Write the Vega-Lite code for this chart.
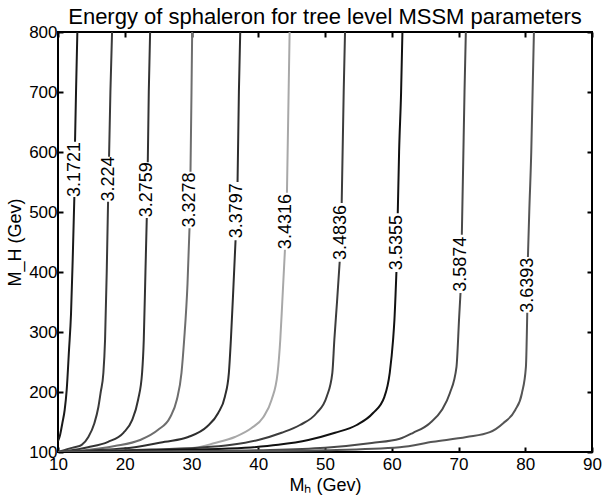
{
  "$schema": "https://vega.github.io/schema/vega-lite/v6.json",
  "width": 534,
  "height": 420,
  "autosize": {"type": "none"},
  "padding": {"left": 58, "top": 32, "right": 10, "bottom": 50},
  "background": "white",
  "title": {"text": "Energy of sphaleron for tree level MSSM parameters", "fontSize": 22, "font": "Liberation Sans", "fontWeight": "normal", "color": "black", "offset": -6, "anchor": "middle"},
  "config": {
    "view": {"stroke": "black", "strokeWidth": 2},
    "axis": {"grid": false, "domain": false, "labelFlush": false, "tickColor": "black", "tickWidth": 2, "tickSize": 5, "offset": -5, "labelFont": "Liberation Sans", "labelFontSize": 17, "labelColor": "black", "titleFont": "Liberation Sans", "titleFontSize": 18, "titleFontWeight": "normal", "titleColor": "black"}
  },
  "datasets": {
    "lines": [
      {"lvl": "3.1721", "seg": "a", "mh": 12.9, "mH": 800}, {"lvl": "3.1721", "seg": "a", "mh": 12.7, "mH": 700}, {"lvl": "3.1721", "seg": "a", "mh": 12.55, "mH": 617},
      {"lvl": "3.1721", "seg": "b", "mh": 12.45, "mH": 525}, {"lvl": "3.1721", "seg": "b", "mh": 12.2, "mH": 420}, {"lvl": "3.1721", "seg": "b", "mh": 11.95, "mH": 330}, {"lvl": "3.1721", "seg": "b", "mh": 11.65, "mH": 270}, {"lvl": "3.1721", "seg": "b", "mh": 11.3, "mH": 203}, {"lvl": "3.1721", "seg": "b", "mh": 11.0, "mH": 170}, {"lvl": "3.1721", "seg": "b", "mh": 10.65, "mH": 148}, {"lvl": "3.1721", "seg": "b", "mh": 10.3, "mH": 128}, {"lvl": "3.1721", "seg": "b", "mh": 10.0, "mH": 118},

      {"lvl": "3.224", "seg": "a", "mh": 18.1, "mH": 800}, {"lvl": "3.224", "seg": "a", "mh": 17.85, "mH": 700}, {"lvl": "3.224", "seg": "a", "mh": 17.65, "mH": 592},
      {"lvl": "3.224", "seg": "b", "mh": 17.5, "mH": 517}, {"lvl": "3.224", "seg": "b", "mh": 17.3, "mH": 400}, {"lvl": "3.224", "seg": "b", "mh": 17.05, "mH": 287}, {"lvl": "3.224", "seg": "b", "mh": 16.8, "mH": 232}, {"lvl": "3.224", "seg": "b", "mh": 16.4, "mH": 200}, {"lvl": "3.224", "seg": "b", "mh": 16.05, "mH": 175}, {"lvl": "3.224", "seg": "b", "mh": 15.45, "mH": 148}, {"lvl": "3.224", "seg": "b", "mh": 14.55, "mH": 125}, {"lvl": "3.224", "seg": "b", "mh": 13.55, "mH": 112}, {"lvl": "3.224", "seg": "b", "mh": 12.5, "mH": 108}, {"lvl": "3.224", "seg": "b", "mh": 11.8, "mH": 106}, {"lvl": "3.224", "seg": "b", "mh": 10.3, "mH": 101}, {"lvl": "3.224", "seg": "b", "mh": 10.0, "mH": 100},

      {"lvl": "3.2759", "seg": "a", "mh": 23.8, "mH": 800}, {"lvl": "3.2759", "seg": "a", "mh": 23.6, "mH": 700}, {"lvl": "3.2759", "seg": "a", "mh": 23.45, "mH": 583},
      {"lvl": "3.2759", "seg": "b", "mh": 23.3, "mH": 490}, {"lvl": "3.2759", "seg": "b", "mh": 23.1, "mH": 400}, {"lvl": "3.2759", "seg": "b", "mh": 22.85, "mH": 287}, {"lvl": "3.2759", "seg": "b", "mh": 22.6, "mH": 232}, {"lvl": "3.2759", "seg": "b", "mh": 22.0, "mH": 187}, {"lvl": "3.2759", "seg": "b", "mh": 21.1, "mH": 153}, {"lvl": "3.2759", "seg": "b", "mh": 19.8, "mH": 132}, {"lvl": "3.2759", "seg": "b", "mh": 17.5, "mH": 117}, {"lvl": "3.2759", "seg": "b", "mh": 14.5, "mH": 108}, {"lvl": "3.2759", "seg": "b", "mh": 11.5, "mH": 102}, {"lvl": "3.2759", "seg": "b", "mh": 10.0, "mH": 100},

      {"lvl": "3.3278", "seg": "a", "mh": 30.1, "mH": 800}, {"lvl": "3.3278", "seg": "a", "mh": 30.0, "mH": 700}, {"lvl": "3.3278", "seg": "a", "mh": 29.85, "mH": 567},
      {"lvl": "3.3278", "seg": "b", "mh": 29.7, "mH": 473}, {"lvl": "3.3278", "seg": "b", "mh": 29.4, "mH": 380}, {"lvl": "3.3278", "seg": "b", "mh": 28.9, "mH": 287}, {"lvl": "3.3278", "seg": "b", "mh": 28.5, "mH": 232}, {"lvl": "3.3278", "seg": "b", "mh": 27.8, "mH": 187}, {"lvl": "3.3278", "seg": "b", "mh": 26.8, "mH": 158}, {"lvl": "3.3278", "seg": "b", "mh": 25.0, "mH": 137}, {"lvl": "3.3278", "seg": "b", "mh": 22.3, "mH": 120}, {"lvl": "3.3278", "seg": "b", "mh": 18.5, "mH": 110}, {"lvl": "3.3278", "seg": "b", "mh": 14.0, "mH": 103}, {"lvl": "3.3278", "seg": "b", "mh": 10.0, "mH": 100},

      {"lvl": "3.3797", "seg": "a", "mh": 37.3, "mH": 800}, {"lvl": "3.3797", "seg": "a", "mh": 37.1, "mH": 700}, {"lvl": "3.3797", "seg": "a", "mh": 36.9, "mH": 550},
      {"lvl": "3.3797", "seg": "b", "mh": 36.6, "mH": 453}, {"lvl": "3.3797", "seg": "b", "mh": 36.3, "mH": 380}, {"lvl": "3.3797", "seg": "b", "mh": 35.9, "mH": 287}, {"lvl": "3.3797", "seg": "b", "mh": 35.6, "mH": 232}, {"lvl": "3.3797", "seg": "b", "mh": 35.0, "mH": 192}, {"lvl": "3.3797", "seg": "b", "mh": 34.0, "mH": 165}, {"lvl": "3.3797", "seg": "b", "mh": 32.3, "mH": 142}, {"lvl": "3.3797", "seg": "b", "mh": 29.5, "mH": 125}, {"lvl": "3.3797", "seg": "b", "mh": 26.0, "mH": 117}, {"lvl": "3.3797", "seg": "b", "mh": 21.5, "mH": 108}, {"lvl": "3.3797", "seg": "b", "mh": 15.5, "mH": 103}, {"lvl": "3.3797", "seg": "b", "mh": 10.0, "mH": 100},

      {"lvl": "3.4316", "seg": "a", "mh": 44.7, "mH": 800}, {"lvl": "3.4316", "seg": "a", "mh": 44.55, "mH": 700}, {"lvl": "3.4316", "seg": "a", "mh": 44.3, "mH": 532},
      {"lvl": "3.4316", "seg": "b", "mh": 44.0, "mH": 437}, {"lvl": "3.4316", "seg": "b", "mh": 43.6, "mH": 350}, {"lvl": "3.4316", "seg": "b", "mh": 43.3, "mH": 287}, {"lvl": "3.4316", "seg": "b", "mh": 42.9, "mH": 232}, {"lvl": "3.4316", "seg": "b", "mh": 42.0, "mH": 187}, {"lvl": "3.4316", "seg": "b", "mh": 40.75, "mH": 158}, {"lvl": "3.4316", "seg": "b", "mh": 39.0, "mH": 140}, {"lvl": "3.4316", "seg": "b", "mh": 36.5, "mH": 125}, {"lvl": "3.4316", "seg": "b", "mh": 33.5, "mH": 115}, {"lvl": "3.4316", "seg": "b", "mh": 30.5, "mH": 107}, {"lvl": "3.4316", "seg": "b", "mh": 25.0, "mH": 104}, {"lvl": "3.4316", "seg": "b", "mh": 18.0, "mH": 102}, {"lvl": "3.4316", "seg": "b", "mh": 10.0, "mH": 100},

      {"lvl": "3.4836", "seg": "a", "mh": 53.0, "mH": 800}, {"lvl": "3.4836", "seg": "a", "mh": 52.8, "mH": 700}, {"lvl": "3.4836", "seg": "a", "mh": 52.5, "mH": 515},
      {"lvl": "3.4836", "seg": "b", "mh": 52.2, "mH": 417}, {"lvl": "3.4836", "seg": "b", "mh": 51.8, "mH": 350}, {"lvl": "3.4836", "seg": "b", "mh": 51.4, "mH": 287}, {"lvl": "3.4836", "seg": "b", "mh": 51.1, "mH": 232}, {"lvl": "3.4836", "seg": "b", "mh": 50.25, "mH": 192}, {"lvl": "3.4836", "seg": "b", "mh": 48.75, "mH": 165}, {"lvl": "3.4836", "seg": "b", "mh": 46.25, "mH": 145}, {"lvl": "3.4836", "seg": "b", "mh": 43.5, "mH": 132}, {"lvl": "3.4836", "seg": "b", "mh": 40.0, "mH": 120}, {"lvl": "3.4836", "seg": "b", "mh": 36.0, "mH": 112}, {"lvl": "3.4836", "seg": "b", "mh": 31.0, "mH": 107}, {"lvl": "3.4836", "seg": "b", "mh": 24.0, "mH": 104}, {"lvl": "3.4836", "seg": "b", "mh": 16.0, "mH": 101.5}, {"lvl": "3.4836", "seg": "b", "mh": 10.0, "mH": 100},

      {"lvl": "3.5355", "seg": "a", "mh": 61.6, "mH": 800}, {"lvl": "3.5355", "seg": "a", "mh": 61.4, "mH": 700}, {"lvl": "3.5355", "seg": "a", "mh": 61.1, "mH": 600}, {"lvl": "3.5355", "seg": "a", "mh": 60.9, "mH": 498},
      {"lvl": "3.5355", "seg": "b", "mh": 60.7, "mH": 400}, {"lvl": "3.5355", "seg": "b", "mh": 60.4, "mH": 320}, {"lvl": "3.5355", "seg": "b", "mh": 60.2, "mH": 287}, {"lvl": "3.5355", "seg": "b", "mh": 59.7, "mH": 232}, {"lvl": "3.5355", "seg": "b", "mh": 58.9, "mH": 192}, {"lvl": "3.5355", "seg": "b", "mh": 57.2, "mH": 165}, {"lvl": "3.5355", "seg": "b", "mh": 54.75, "mH": 145}, {"lvl": "3.5355", "seg": "b", "mh": 51.5, "mH": 132}, {"lvl": "3.5355", "seg": "b", "mh": 47.5, "mH": 120}, {"lvl": "3.5355", "seg": "b", "mh": 43.0, "mH": 112}, {"lvl": "3.5355", "seg": "b", "mh": 38.0, "mH": 107}, {"lvl": "3.5355", "seg": "b", "mh": 30.0, "mH": 104}, {"lvl": "3.5355", "seg": "b", "mh": 20.0, "mH": 101.5}, {"lvl": "3.5355", "seg": "b", "mh": 10.0, "mH": 100},

      {"lvl": "3.5874", "seg": "a", "mh": 71.1, "mH": 800}, {"lvl": "3.5874", "seg": "a", "mh": 70.9, "mH": 700}, {"lvl": "3.5874", "seg": "a", "mh": 70.7, "mH": 580}, {"lvl": "3.5874", "seg": "a", "mh": 70.5, "mH": 462},
      {"lvl": "3.5874", "seg": "b", "mh": 70.3, "mH": 365}, {"lvl": "3.5874", "seg": "b", "mh": 70.1, "mH": 325}, {"lvl": "3.5874", "seg": "b", "mh": 69.7, "mH": 242}, {"lvl": "3.5874", "seg": "b", "mh": 68.7, "mH": 198}, {"lvl": "3.5874", "seg": "b", "mh": 67.5, "mH": 170}, {"lvl": "3.5874", "seg": "b", "mh": 65.7, "mH": 148}, {"lvl": "3.5874", "seg": "b", "mh": 63.2, "mH": 132}, {"lvl": "3.5874", "seg": "b", "mh": 61.2, "mH": 122}, {"lvl": "3.5874", "seg": "b", "mh": 57.0, "mH": 115}, {"lvl": "3.5874", "seg": "b", "mh": 50.0, "mH": 107}, {"lvl": "3.5874", "seg": "b", "mh": 40.0, "mH": 103}, {"lvl": "3.5874", "seg": "b", "mh": 30.0, "mH": 101.5}, {"lvl": "3.5874", "seg": "b", "mh": 20.0, "mH": 100.5}, {"lvl": "3.5874", "seg": "b", "mh": 10.0, "mH": 100},

      {"lvl": "3.6393", "seg": "a", "mh": 81.3, "mH": 800}, {"lvl": "3.6393", "seg": "a", "mh": 81.1, "mH": 700}, {"lvl": "3.6393", "seg": "a", "mh": 80.9, "mH": 600}, {"lvl": "3.6393", "seg": "a", "mh": 80.6, "mH": 500}, {"lvl": "3.6393", "seg": "a", "mh": 80.4, "mH": 425},
      {"lvl": "3.6393", "seg": "b", "mh": 80.3, "mH": 332}, {"lvl": "3.6393", "seg": "b", "mh": 80.1, "mH": 242}, {"lvl": "3.6393", "seg": "b", "mh": 79.5, "mH": 198}, {"lvl": "3.6393", "seg": "b", "mh": 78.5, "mH": 170}, {"lvl": "3.6393", "seg": "b", "mh": 76.7, "mH": 148}, {"lvl": "3.6393", "seg": "b", "mh": 74.7, "mH": 133}, {"lvl": "3.6393", "seg": "b", "mh": 71.2, "mH": 125}, {"lvl": "3.6393", "seg": "b", "mh": 66.2, "mH": 117}, {"lvl": "3.6393", "seg": "b", "mh": 61.2, "mH": 108}, {"lvl": "3.6393", "seg": "b", "mh": 50.0, "mH": 103}, {"lvl": "3.6393", "seg": "b", "mh": 40.0, "mH": 101.5}, {"lvl": "3.6393", "seg": "b", "mh": 30.0, "mH": 100.8}, {"lvl": "3.6393", "seg": "b", "mh": 20.0, "mH": 100.3}, {"lvl": "3.6393", "seg": "b", "mh": 10.0, "mH": 100}
    ],
    "labels": [
      {"lvl": "3.1721", "mh": 12.5, "mH": 571},
      {"lvl": "3.224", "mh": 17.6, "mH": 555},
      {"lvl": "3.2759", "mh": 23.4, "mH": 537},
      {"lvl": "3.3278", "mh": 29.8, "mH": 520},
      {"lvl": "3.3797", "mh": 36.75, "mH": 502},
      {"lvl": "3.4316", "mh": 44.15, "mH": 484},
      {"lvl": "3.4836", "mh": 52.35, "mH": 466},
      {"lvl": "3.5355", "mh": 60.8, "mH": 449},
      {"lvl": "3.5874", "mh": 70.4, "mH": 413},
      {"lvl": "3.6393", "mh": 80.35, "mH": 378}
    ]
  },
  "layer": [
    {
      "data": {"name": "lines"},
      "mark": {"type": "line", "strokeWidth": 2, "clip": true, "interpolate": "monotone"},
      "encoding": {
        "x": {"field": "mh", "type": "quantitative", "scale": {"domain": [10, 90], "nice": false, "zero": false}, "axis": {"values": [10, 20, 30, 40, 50, 60, 70, 80, 90], "title": "Mₕ (Gev)", "labelPadding": 4, "titlePadding": 4}},
        "y": {"field": "mH", "type": "quantitative", "scale": {"domain": [100, 800], "nice": false, "zero": false}, "axis": {"values": [100, 200, 300, 400, 500, 600, 700, 800], "title": "M_H (Gev)", "labelPadding": 1, "titlePadding": 4}},
        "detail": {"field": "seg"},
        "order": {"field": "mH", "type": "quantitative"},
        "color": {"field": "lvl", "type": "nominal", "legend": null, "scale": {"domain": ["3.1721", "3.224", "3.2759", "3.3278", "3.3797", "3.4316", "3.4836", "3.5355", "3.5874", "3.6393"], "range": ["#1a1a1a", "#3a3a3a", "#333333", "#6e6e6e", "#2e2e2e", "#a8a8a8", "#3c3c3c", "#111111", "#4a4a4a", "#555555"]}}
      }
    },
    {
      "data": {"name": "labels"},
      "mark": {"type": "text", "angle": 270, "align": "center", "baseline": "middle", "font": "Liberation Sans", "fontSize": 18, "color": "black"},
      "encoding": {
        "x": {"field": "mh", "type": "quantitative", "axis": {"orient": "top", "values": [10, 20, 30, 40, 50, 60, 70, 80, 90], "labels": false, "title": null}},
        "y": {"field": "mH", "type": "quantitative", "axis": {"orient": "right", "values": [100, 200, 300, 400, 500, 600, 700, 800], "labels": false, "title": null}},
        "text": {"field": "lvl"}
      }
    }
  ],
  "resolve": {"axis": {"x": "independent", "y": "independent"}}
}
